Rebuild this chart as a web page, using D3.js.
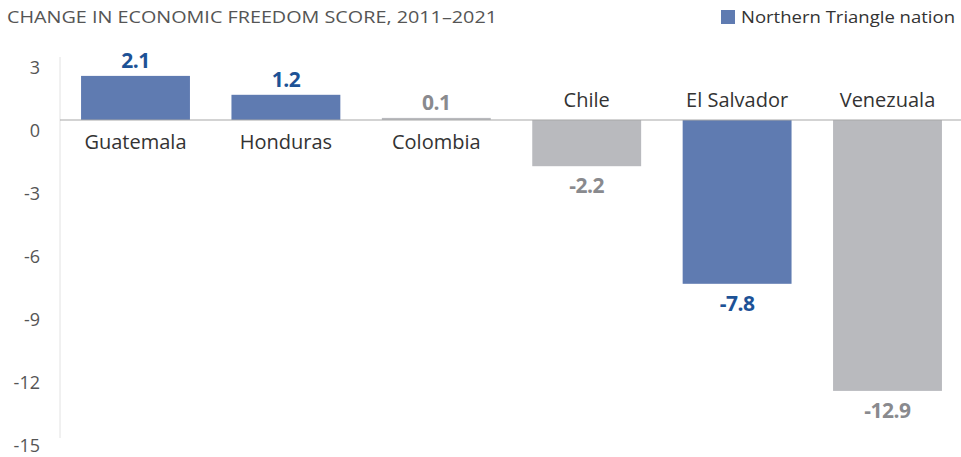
<!DOCTYPE html>
<html>
<head>
<meta charset="utf-8">
<script src="https://cdn.jsdelivr.net/npm/d3@7"></script>
<style>
    body { margin: 0; background: #fff; }
    text { font-family: "Open Sans", sans-serif; }
</style>
</head>
<body>
<svg id="chart" width="961" height="457"></svg>
<script>
// Data.
const countries = ['Guatemala', 'Honduras', 'Colombia', 'Chile', 'El Salvador', 'Venezuala'];
const changes = [2.1, 1.2, 0.1, -2.2, -7.8, -12.9];
const northern = [true, true, false, false, true, false];
const yTicks = [3, 0, -3, -6, -9, -12, -15];

const BLUE = '#5f7bb1';
const GREY = '#b9babe';
const BLUE_TEXT = '#1d5296';
const GREY_TEXT = '#898a8e';

const svg = d3.select('#chart');

const x = d3.scaleBand()
    .domain(countries)
    .range([60, 963])
    .paddingInner(0.276)
    .paddingOuter(0.14);

const y = d3.scaleLinear()
    .domain([-15, 3])
    .range([435, 57]);

// Title.
svg.append('text')
    .attr('x', 7)
    .attr('y', 23)
    .attr('font-size', 17)
    .attr('fill', '#555')
    .attr('textLength', 490)
    .attr('lengthAdjust', 'spacingAndGlyphs')
    .text('CHANGE IN ECONOMIC FREEDOM SCORE, 2011\u20132021');

// Legend.
svg.append('rect')
    .attr('x', 721)
    .attr('y', 10)
    .attr('width', 14)
    .attr('height', 14)
    .attr('fill', BLUE);
svg.append('text')
    .attr('x', 741)
    .attr('y', 23)
    .attr('font-size', 17)
    .attr('fill', '#333')
    .attr('textLength', 214)
    .attr('lengthAdjust', 'spacingAndGlyphs')
    .text('Northern Triangle nation');

// Y axis.
const yAxis = svg.append('g')
    .attr('transform', 'translate(60,0)')
    .call(d3.axisLeft(y).tickValues(yTicks).tickSize(0).tickPadding(20)
        .tickFormat(d => String(d)));
yAxis.select('.domain')
    .attr('stroke', '#e2e2e2')
    .attr('d', `M0,${y(3)}V${y(-15) + 3}`);
yAxis.selectAll('.tick text')
    .attr('font-size', 18)
    .attr('fill', '#555')
    .attr('dy', '0.9em')
    .attr('font-family', '"Open Sans", sans-serif');

const data = countries.map((c, i) => ({name: c, value: changes[i], nt: northern[i]}));

// Bars.
svg.append('g')
    .selectAll('rect')
    .data(data)
    .join('rect')
    .attr('x', d => x(d.name))
    .attr('width', x.bandwidth())
    .attr('y', d => y(Math.max(0, d.value)))
    .attr('height', d => Math.abs(y(d.value) - y(0)))
    .attr('fill', d => d.nt ? BLUE : GREY);

// Zero line.
svg.append('line')
    .attr('x1', 60)
    .attr('x2', 963)
    .attr('y1', y(0))
    .attr('y2', y(0))
    .attr('stroke', '#a8a8a8')
    .attr('stroke-width', 1.2);

// Value labels.
svg.append('g')
    .selectAll('text')
    .data(data)
    .join('text')
    .attr('x', d => x(d.name) + x.bandwidth() / 2)
    .attr('y', d => d.value >= 0 ? y(d.value) - 8 : y(d.value) + 27)
    .attr('text-anchor', 'middle')
    .attr('font-size', 21)
    .attr('font-weight', 'bold')
    .attr('font-family', 'Roboto, sans-serif')
    .attr('letter-spacing', -0.5)
    .attr('fill', d => d.nt ? BLUE_TEXT : GREY_TEXT)
    .text(d => d.value.toFixed(1));

// Category labels.
svg.append('g')
    .selectAll('text')
    .data(data)
    .join('text')
    .attr('x', d => x(d.name) + x.bandwidth() / 2)
    .attr('y', d => d.value >= 0 ? y(0) + 29 : y(0) - 13)
    .attr('text-anchor', 'middle')
    .attr('font-size', 20)
    .attr('fill', '#333')
    .text(d => d.name);
</script>
</body>
</html>
